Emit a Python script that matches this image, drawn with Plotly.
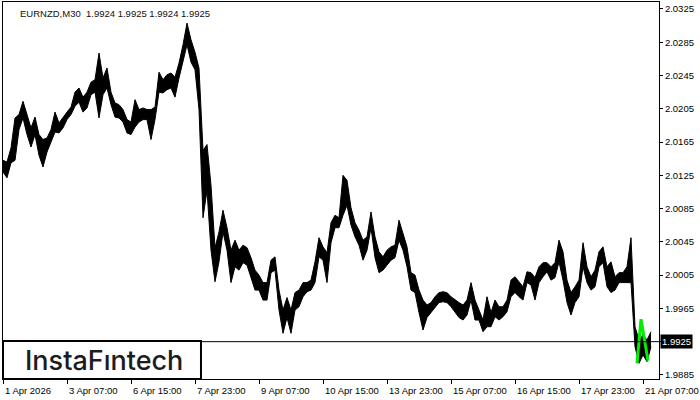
import plotly.graph_objects as go

# ---- data (EURNZD M30; one sample every 4 bars) ----
high = [2.0143, 2.0141, 2.0158, 2.0194, 2.0198, 2.0214, 2.0198, 2.0182, 2.0195, 2.0174,
        2.0168, 2.0170, 2.0180, 2.0201, 2.0188, 2.0195, 2.0201, 2.0207, 2.0225, 2.0230,
        2.0219, 2.0225, 2.0237, 2.0240, 2.0272, 2.0242, 2.0254, 2.0225, 2.0212, 2.0210,
        2.0204, 2.0192, 2.0189, 2.0216, 2.0204, 2.0206, 2.0204, 2.0204, 2.0207, 2.0249,
        2.0240, 2.0246, 2.0248, 2.0243, 2.0260, 2.0282, 2.0308, 2.0288, 2.0273, 2.0254,
        2.0155, 2.0162, 2.0113, 2.0038, 2.0057, 2.0083, 2.0062, 2.0035, 2.0047, 2.0035,
        2.0041, 2.0038, 2.0026, 2.0011, 2.0005, 1.9996, 1.9996, 2.0023, 2.0027, 1.9987,
        1.9963, 1.9978, 1.9963, 1.9984, 1.9987, 1.9996, 1.9996, 1.9999, 2.0021, 2.0050,
        2.0039, 2.0032, 2.0068, 2.0077, 2.0074, 2.0125, 2.0119, 2.0086, 2.0068, 2.0059,
        2.0047, 2.0051, 2.0081, 2.0051, 2.0033, 2.0027, 2.0035, 2.0039, 2.0041, 2.0071,
        2.0056, 2.0039, 2.0008, 2.0005, 1.9987, 1.9975, 1.9969, 1.9972, 1.9979, 1.9984,
        1.9985, 1.9984, 1.9979, 1.9975, 1.9972, 1.9969, 1.9975, 1.9996, 1.9975, 1.9963,
        1.9951, 1.9979, 1.9960, 1.9975, 1.9967, 1.9967, 1.9975, 1.9999, 2.0003, 1.9997,
        1.9991, 2.0009, 2.0008, 2.0002, 2.0015, 2.0020, 2.0020, 2.0015, 2.0020, 2.0047,
        2.0033, 1.9999, 1.9984, 1.9991, 1.9999, 2.0044, 2.0015, 2.0003, 2.0011, 2.0033,
        2.0039, 2.0015, 2.0021, 2.0003, 2.0008, 2.0008, 2.0015, 2.0050, 1.9943, 1.9927,
        1.9933, 1.9927, 1.9937]
low = [2.0129, 2.0122, 2.0140, 2.0143, 2.0180, 2.0194, 2.0174, 2.0159, 2.0174, 2.0149,
       2.0135, 2.0153, 2.0165, 2.0177, 2.0176, 2.0182, 2.0192, 2.0198, 2.0208, 2.0213,
       2.0201, 2.0206, 2.0222, 2.0225, 2.0194, 2.0222, 2.0230, 2.0210, 2.0195, 2.0194,
       2.0189, 2.0176, 2.0174, 2.0183, 2.0189, 2.0192, 2.0192, 2.0168, 2.0192, 2.0225,
       2.0224, 2.0228, 2.0230, 2.0219, 2.0242, 2.0261, 2.0282, 2.0261, 2.0252, 2.0204,
       2.0074, 2.0107, 2.0035, 1.9997, 2.0021, 2.0057, 2.0035, 1.9996, 2.0015, 2.0011,
       2.0020, 2.0017, 2.0003, 1.9987, 1.9987, 1.9975, 1.9975, 2.0008, 2.0011, 1.9963,
       1.9935, 1.9954, 1.9935, 1.9963, 1.9967, 1.9979, 1.9985, 1.9987, 1.9996, 2.0027,
       2.0023, 1.9996, 2.0044, 2.0062, 2.0062, 2.0077, 2.0089, 2.0065, 2.0051, 2.0041,
       2.0023, 2.0035, 2.0062, 2.0026, 2.0008, 2.0011, 2.0017, 2.0023, 2.0026, 2.0047,
       2.0035, 2.0015, 1.9987, 1.9984, 1.9960, 1.9939, 1.9954, 1.9960, 1.9967, 1.9972,
       1.9973, 1.9972, 1.9967, 1.9960, 1.9954, 1.9951, 1.9957, 1.9975, 1.9951, 1.9951,
       1.9937, 1.9943, 1.9943, 1.9955, 1.9951, 1.9955, 1.9961, 1.9979, 1.9984, 1.9979,
       1.9975, 1.9996, 1.9993, 1.9975, 1.9996, 2.0003, 2.0009, 1.9999, 2.0002, 2.0021,
       1.9999, 1.9972, 1.9957, 1.9972, 1.9979, 2.0015, 1.9996, 1.9987, 1.9991, 2.0015,
       2.0020, 1.9991, 1.9984, 1.9987, 1.9996, 1.9996, 1.9996, 1.9996, 1.9919, 1.9899,
       1.9909, 1.9901, 1.9919]
bars_per_sample = 4

# pattern highlight (green) : bar index and price
pattern_bar = [634, 638, 645]
pattern_price = [1.9899, 1.9952, 1.9902]

last_price = 1.9925
symbol = "EURNZD,M30"
last_ohlc = ["1.9924", "1.9925", "1.9924", "1.9925"]

y_ticks = [1.9885, 1.9925, 1.9965, 2.0005, 2.0045, 2.0085, 2.0125,
           2.0165, 2.0205, 2.0245, 2.0285, 2.0325]
x_tick_labels = ["1 Apr 2026", "3 Apr 07:00", "6 Apr 15:00", "7 Apr 23:00",
                 "9 Apr 07:00", "10 Apr 15:00", "13 Apr 23:00", "15 Apr 07:00",
                 "16 Apr 15:00", "17 Apr 23:00", "21 Apr 07:00"]
bars_per_x_tick = 64
total_bars = 656

bar_idx = [i * bars_per_sample for i in range(len(high))]
x_tick_idx = [i * bars_per_x_tick for i in range(len(x_tick_labels))]
# the current-price box replaces the axis label at that level
y_tick_text = ["" if abs(v - last_price) < 1e-9 else f"{v:.4f}" for v in y_ticks]

FONT = "Liberation Sans, Arial, sans-serif"

fig = go.Figure()
fig.add_trace(go.Scatter(x=bar_idx, y=high, mode="lines",
                         line=dict(color="black", width=1), hoverinfo="skip"))
fig.add_trace(go.Scatter(x=bar_idx, y=low, mode="lines", fill="tonexty",
                         fillcolor="black",
                         line=dict(color="black", width=1), hoverinfo="skip"))
fig.add_trace(go.Scatter(x=pattern_bar, y=pattern_price, mode="lines",
                         line=dict(color="#00ee00", width=3), hoverinfo="skip"))

# current price line
fig.add_shape(type="line", xref="paper", x0=0, x1=1, yref="y",
              y0=last_price, y1=last_price, line=dict(color="black", width=1))

# logo box
fig.add_shape(type="rect", xref="paper", yref="paper", x0=0, x1=0.3018,
              y0=0, y1=0.1008, fillcolor="white",
              line=dict(color="black", width=2), layer="above")
fig.add_annotation(xref="paper", yref="paper", x=0.154, y=0.05,
                   text="InstaF\u0131ntech", showarrow=False,
                   font=dict(family="Inter, Lato, sans-serif", size=27,
                             color="#1c1c1c", weight=500),
                   xanchor="center", yanchor="middle")

# title
fig.add_annotation(xref="paper", yref="paper", x=0.0229, y=1, yshift=-4,
                   text=symbol + "&nbsp;&nbsp;" + " ".join(last_ohlc),
                   showarrow=False, xanchor="left", yanchor="top",
                   font=dict(family=FONT, size=9.5, color="#101010"))

# price label
fig.add_annotation(xref="paper", yref="y", x=1, y=last_price, xshift=1,
                   text=f"{last_price:.4f}", showarrow=False, xanchor="left",
                   yanchor="middle", bgcolor="black", borderpad=1,
                   font=dict(family=FONT, size=9.5, color="white"))

# x tick labels, left aligned at tick (MetaTrader style)
for xi, lab in zip(x_tick_idx, x_tick_labels):
    fig.add_annotation(x=xi, xref="x", y=0, yref="paper", yshift=-4,
                       text=lab, showarrow=False, xanchor="left",
                       yanchor="top",
                       font=dict(family=FONT, size=9.5, color="black"))

fig.update_layout(
    width=700, height=400,
    margin=dict(l=3, r=41, t=2, b=21),
    paper_bgcolor="white", plot_bgcolor="white",
    showlegend=False,
    xaxis=dict(range=[0, total_bars], tickvals=x_tick_idx, showticklabels=False,
               ticks="outside", ticklen=4, tickcolor="black",
               showgrid=False, zeroline=False, showline=True,
               linecolor="black", linewidth=1, mirror=True, fixedrange=True),
    yaxis=dict(range=[1.98801, 2.03334], side="right", tickvals=y_ticks,
               ticktext=y_tick_text,
               ticks="outside", ticklen=3, tickcolor="black",
               tickfont=dict(family=FONT, size=9.5, color="black"),
               showgrid=False, zeroline=False, showline=True,
               linecolor="black", linewidth=1, mirror=True, fixedrange=True),
)

fig.write_html("out.html", config={"displayModeBar": False},
               post_script="document.body.style.margin='0';")
